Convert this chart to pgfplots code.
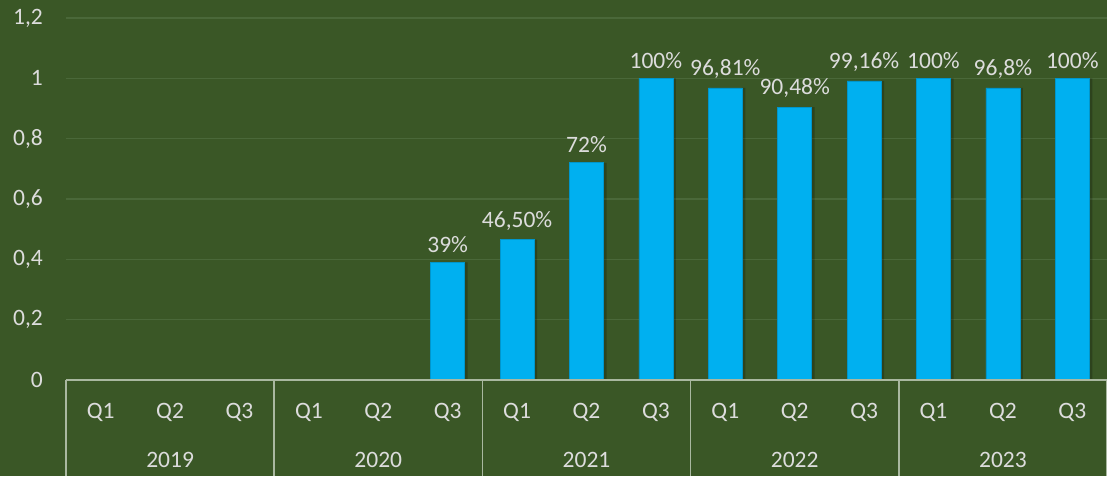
\documentclass[border=0pt]{standalone}
\usepackage{pgfplots}
\pgfplotsset{compat=1.18}
\usepackage{pgfplotstable}
\usepackage{fontspec}
\setmainfont{Carlito}
\usetikzlibrary{backgrounds,calc}
\definecolor{bg}{HTML}{3A5726}
\definecolor{gridc}{HTML}{4A6839}
\definecolor{barc}{HTML}{00B0F0}
\definecolor{txt}{HTML}{DCDCDC}
\definecolor{axl}{HTML}{A9B8A0}

\pgfplotstableread{
x y lab
5 0.39 39\%
6 0.465 46,50\%
7 0.72 72\%
8 1.0 100\%
9 0.9681 96,81\%
10 0.9048 90,48\%
11 0.9916 99,16\%
12 1.0 100\%
13 0.968 96,8\%
14 1.0 100\%
}\datatable

\newcommand{\fnt}{\fontsize{23.5}{28}\selectfont}

\begin{document}
\begin{tikzpicture}[font=\fnt]
\begin{axis}[
  width=1041pt, height=362pt, scale only axis,
  xmin=-0.5, xmax=14.5, ymin=0, ymax=1.2,
  axis line style={draw=none},
  major tick length=0pt,
  xtick={0,...,14},
  xticklabels={Q1,Q2,Q3,Q1,Q2,Q3,Q1,Q2,Q3,Q1,Q2,Q3,Q1,Q2,Q3},
  xticklabel style={anchor=center, yshift=-32pt, text=txt, font=\fnt},
  ytick={0,0.2,0.4,0.6,0.8,1,1.2},
  yticklabels={0,{0,2},{0,4},{0,6},{0,8},1,{1,2}},
  yticklabel style={anchor=east, inner sep=0pt, xshift=-23pt, text=txt, font=\fnt},
  ymajorgrids,
  grid style={draw=gridc, line width=1.3pt},
  ybar, bar width=34pt,
  clip=false,
  nodes near coords,
  point meta=explicit symbolic,
  nodes near coords style={text=txt, font=\fnt, yshift=6pt},
]
\addplot[fill=black, opacity=0.22, draw=none, bar shift=3pt, nodes near coords={}] table[x=x, y=y] \datatable;
\addplot[fill=barc, draw=barc!85!black, line width=0.6pt, bar shift=0pt] table[x=x, y=y, meta=lab] \datatable;
\draw[axl, line width=1.5pt] (axis cs:-0.5,0) -- (axis cs:14.5,0);
\draw[axl, line width=1.5pt] (axis cs:-0.5,0) -- ([yshift=-96pt]axis cs:-0.5,0);
\draw[axl, line width=1.5pt] (axis cs:2.5,0) -- ([yshift=-96pt]axis cs:2.5,0);
\draw[axl, line width=1.5pt] (axis cs:5.5,0) -- ([yshift=-96pt]axis cs:5.5,0);
\draw[axl, line width=1.5pt] (axis cs:8.5,0) -- ([yshift=-96pt]axis cs:8.5,0);
\draw[axl, line width=1.5pt] (axis cs:11.5,0) -- ([yshift=-96pt]axis cs:11.5,0);
\draw[axl, line width=1.5pt] (axis cs:14.5,0) -- ([yshift=-96pt]axis cs:14.5,0);
\node[text=txt, font=\fnt] at ([yshift=-80pt]axis cs:1,0) {2019};
\node[text=txt, font=\fnt] at ([yshift=-80pt]axis cs:4,0) {2020};
\node[text=txt, font=\fnt] at ([yshift=-80pt]axis cs:7,0) {2021};
\node[text=txt, font=\fnt] at ([yshift=-80pt]axis cs:10,0) {2022};
\node[text=txt, font=\fnt] at ([yshift=-80pt]axis cs:13,0) {2023};
\end{axis}
\begin{scope}[on background layer]
\fill[bg] ($(current axis.south west)+(-66pt,-96pt)$) rectangle ($(current axis.north east)+(0,18pt)$);
\end{scope}
\pgfresetboundingbox
\useasboundingbox ($(current axis.south west)+(-66pt,-96pt)$) rectangle ($(current axis.north east)+(0,18pt)$);
\end{tikzpicture}
\end{document}
